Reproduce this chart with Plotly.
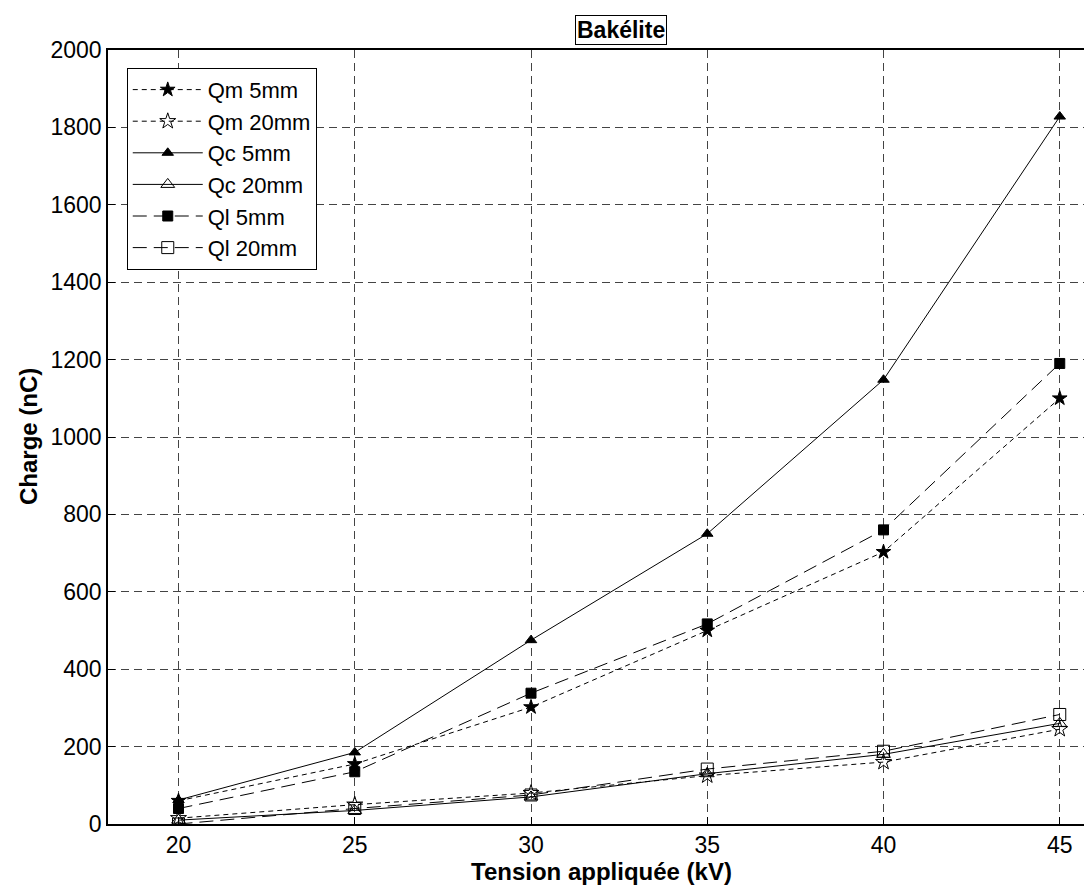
import plotly.graph_objects as go

voltage = [20, 25, 30, 35, 40, 45]
qm_5mm = [60, 155, 302, 500, 703, 1100]
qm_20mm = [15, 50, 80, 125, 160, 245]
qc_5mm = [62, 185, 475, 750, 1148, 1828]
qc_20mm = [10, 35, 70, 130, 180, 260]
ql_5mm = [40, 135, 338, 517, 760, 1190]
ql_20mm = [0, 40, 75, 142, 188, 283]

x_ticks = [20, 25, 30, 35, 40, 45]
y_ticks = list(range(0, 2001, 200))

FONT = "Arial, Liberation Sans, Helvetica, sans-serif"

series = [
    ("Qm 5mm", qm_5mm, "5px,4px", "star", 11),
    ("Qm 20mm", qm_20mm, "5px,4px", "star-open", 12),
    ("Qc 5mm", qc_5mm, "solid", "triangle-up", 10),
    ("Qc 20mm", qc_20mm, "solid", "triangle-up-open", 12),
    ("Ql 5mm", ql_5mm, "14px,7px", "square", 10),
    ("Ql 20mm", ql_20mm, "14px,7px", "square-open", 12),
]

fig = go.Figure()
for name, vals, dash, sym, size in series:
    fig.add_trace(go.Scatter(
        x=voltage, y=vals, name=name, mode="lines+markers",
        line=dict(color="black", width=1, dash=dash),
        marker=dict(symbol=sym, size=size, color="black",
                    line=dict(color="black", width=1)),
    ))

fig.update_layout(
    width=1092, height=887,
    margin=dict(l=100, r=5, t=42, b=71),
    paper_bgcolor="white", plot_bgcolor="white",
    font=dict(family=FONT, size=23, color="black"),
    showlegend=True,
    legend=dict(x=0.019, y=0.977, xanchor="left", yanchor="top",
                bgcolor="white", bordercolor="black", borderwidth=1,
                font=dict(size=22), tracegroupgap=0, itemwidth=70),
    xaxis=dict(range=[18, 46], tickvals=x_ticks, ticks="inside", ticklen=7,
               tickcolor="black", showline=True, linecolor="black", linewidth=1.5,
               mirror=True, showgrid=True, gridcolor="#444", gridwidth=1,
               griddash="8px,5px", zeroline=False, tickfont=dict(size=23)),
    yaxis=dict(range=[0, 2000], tickvals=y_ticks, ticks="inside", ticklen=7,
               tickcolor="black", showline=True, linecolor="black", linewidth=1.5,
               mirror=False, showgrid=True, gridcolor="#444", gridwidth=1,
               griddash="8px,5px", zeroline=False, tickfont=dict(size=23)),
    annotations=[
        dict(text="<b>Bakélite</b>", x=0.52, y=1.026, xref="paper", yref="paper",
             xanchor="center", yanchor="middle",
             showarrow=False, font=dict(size=23), bordercolor="black",
             borderwidth=1, borderpad=1, bgcolor="white"),
        dict(text="<b>Tension appliquée (kV)</b>", x=0.5, y=-0.062,
             xanchor="center", yanchor="middle",
             xref="paper", yref="paper", showarrow=False, font=dict(size=24)),
        dict(text="<b>Charge (nC)</b>", x=-0.081, y=0.5, xref="paper",
             xanchor="center", yanchor="middle",
             yref="paper", showarrow=False, textangle=-90, font=dict(size=24)),
    ],
)

fig.write_html("out.html")
